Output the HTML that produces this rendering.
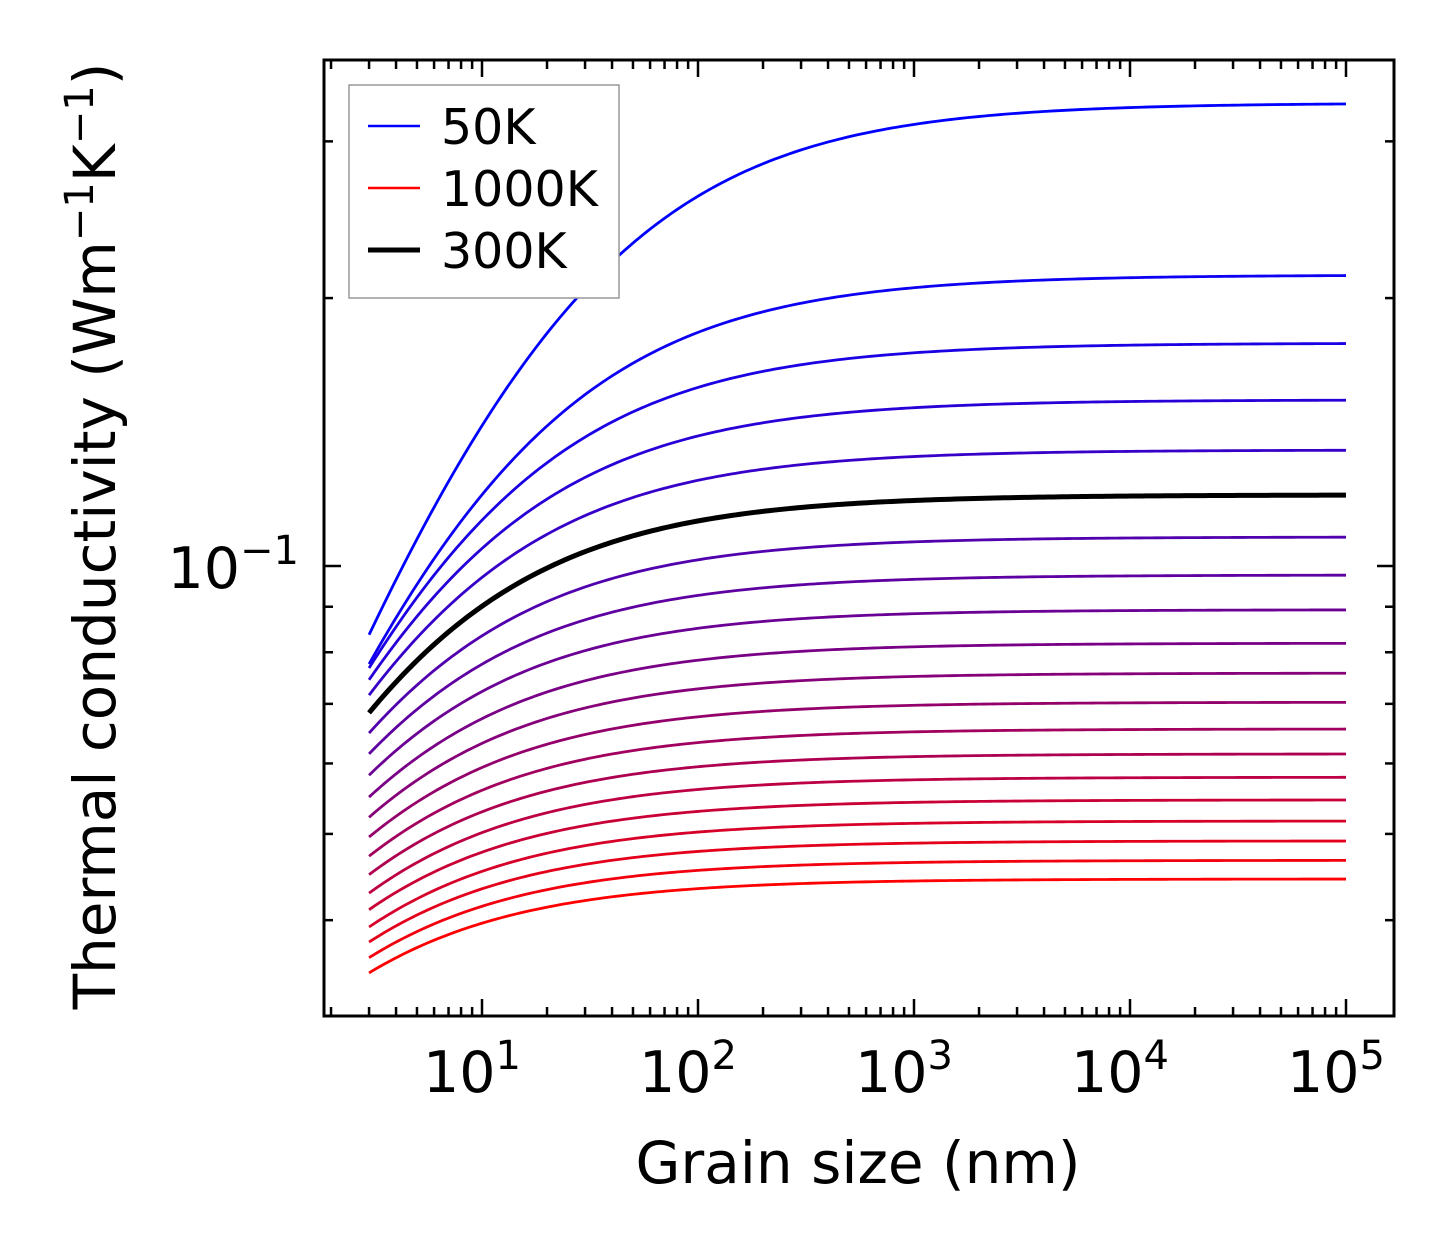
<!DOCTYPE html>
<html><head><meta charset="utf-8"><style>
html,body{margin:0;padding:0;background:#fff}
svg{display:block;font-family:"DejaVu Sans","Liberation Sans",sans-serif}
</style></head><body>
<svg id="chart" width="1454" height="1254" viewBox="0 0 1454 1254" xmlns="http://www.w3.org/2000/svg">
<rect width="1454" height="1254" fill="#fff"/>
<g id="curves"></g>
<g id="ticks"></g>
<rect x="324" y="60" width="1070" height="956" fill="none" stroke="#000" stroke-width="3"/>
<g id="ticklabels" font-size="57"></g>
<text x="858" y="1183" font-size="58" text-anchor="middle">Grain size (nm)</text>
<text transform="translate(115,536) rotate(-90)" font-size="58" text-anchor="middle">Thermal conductivity (Wm<tspan dy="-22" font-size="40">−1</tspan><tspan dy="22">K</tspan><tspan dy="-22" font-size="40">−1</tspan><tspan dy="22">)</tspan></text>
<g>
<rect x="349" y="85" width="270" height="213" fill="#fff" stroke="#999" stroke-width="1.5"/>
<line x1="368" y1="126" x2="420" y2="126" stroke="#0000ff" stroke-width="2.5"/>
<text x="441" y="144" font-size="49">50K</text>
<line x1="368" y1="188" x2="420" y2="188" stroke="#ff0000" stroke-width="2.5"/>
<text x="441" y="206" font-size="49">1000K</text>
<line x1="368" y1="250" x2="420" y2="250" stroke="#000" stroke-width="5"/>
<text x="441" y="268" font-size="49">300K</text>
</g>
</svg>
<script>
const temperatures = [50,100,150,200,250,300,350,400,450,500,550,600,650,700,750,800,850,900,950,1000];
const kSaturated = [0.3313,0.2123,0.1780,0.1537,0.1350,0.1202,0.1078,0.0977,0.0893,0.0819,0.0758,0.0703,0.0656,0.0615,0.0579,0.0546,0.0517,0.0491,0.0467,0.0445];
const kAt3nm = [0.0837,0.0776,0.0768,0.0745,0.0716,0.0684,0.0649,0.0615,0.0582,0.0550,0.0522,0.0496,0.0472,0.0450,0.0429,0.0411,0.0393,0.0378,0.0363,0.0349];
const grainMin = 3, grainMax = 100000;
const xTickExps = [1,2,3,4,5];
const highlightT = 300;

const NS = "http://www.w3.org/2000/svg";
const X0 = 324, X1 = 1394, Y0 = 60, Y1 = 1016;
const xDec = 216, x10 = 482;
const yDec = 890, y01 = 566;
function xs(v){ return x10 + (Math.log10(v) - 1) * xDec; }
function ys(v){ return y01 - (Math.log10(v) + 1) * yDec; }
const xLo = Math.pow(10, 1 + (X0 - x10) / xDec), xHi = Math.pow(10, 1 + (X1 - x10) / xDec);
const yHi = Math.pow(10, -1 + (y01 - Y0) / yDec), yLo = Math.pow(10, -1 - (Y1 - y01) / yDec);

function curveD(i){
  const p = 0.68;
  const Lc = grainMin * Math.pow(kSaturated[i] / kAt3nm[i] - 1, 1 / p);
  let d = "";
  for (let j = 0; j <= 200; j++) {
    const L = grainMin * Math.pow(grainMax / grainMin, j / 200);
    const k = kSaturated[i] / (1 + Math.pow(Lc / L, p));
    d += (j ? "L" : "M") + xs(L).toFixed(2) + "," + ys(k).toFixed(2);
  }
  return d;
}
const cg = document.getElementById("curves");
temperatures.forEach((T, i) => {
  const t = i / (temperatures.length - 1);
  const p = document.createElementNS(NS, "path");
  p.setAttribute("d", curveD(i));
  p.setAttribute("fill", "none");
  p.setAttribute("stroke", `rgb(${Math.round(255 * t)},0,${Math.round(255 * (1 - t))})`);
  p.setAttribute("stroke-width", "2.8");
  
  
  cg.appendChild(p);
});
{
  const i = temperatures.indexOf(highlightT);
  const p = document.createElementNS(NS, "path");
  p.setAttribute("d", curveD(i));
  p.setAttribute("fill", "none");
  p.setAttribute("stroke", "#000");
  p.setAttribute("stroke-width", "5");
  
  
  cg.appendChild(p);
}

const tg = document.getElementById("ticks");
function tick(x1, y1, x2, y2){
  const l = document.createElementNS(NS, "line");
  l.setAttribute("x1", x1); l.setAttribute("y1", y1);
  l.setAttribute("x2", x2); l.setAttribute("y2", y2);
  l.setAttribute("stroke", "#000"); l.setAttribute("stroke-width", "2.5");
  
  
  tg.appendChild(l);
}
for (let e = 0; e <= 6; e++) {
  for (let m = 1; m <= 9; m++) {
    const v = m * Math.pow(10, e);
    if (v < xLo || v > xHi) continue;
    const x = xs(v), len = m === 1 ? 17 : 9;
    tick(x, Y1, x, Y1 - len); tick(x, Y0, x, Y0 + len);
  }
}
for (let e = -3; e <= 0; e++) {
  for (let m = 1; m <= 9; m++) {
    const v = m * Math.pow(10, e);
    if (v < yLo || v > yHi) continue;
    const y = ys(v), len = m === 1 ? 17 : 9;
    tick(X0, y, X0 + len, y); tick(X1, y, X1 - len, y);
  }
}
const lg = document.getElementById("ticklabels");
xTickExps.forEach(e => {
  const t = document.createElementNS(NS, "text");
  t.setAttribute("x", xs(Math.pow(10, e)) - 10);
  t.setAttribute("y", 1092);
  t.setAttribute("text-anchor", "middle");
  t.innerHTML = '10<tspan dy="-23" font-size="40">' + e + '</tspan>';
  
  
  lg.appendChild(t);
});
{
  const t = document.createElementNS(NS, "text");
  t.setAttribute("x", 299);
  t.setAttribute("y", ys(0.1) + 22);
  t.setAttribute("text-anchor", "end");
  t.innerHTML = '10<tspan dy="-24" font-size="40">−1</tspan>';
  
  
  lg.appendChild(t);
}
</script>
</body></html>
